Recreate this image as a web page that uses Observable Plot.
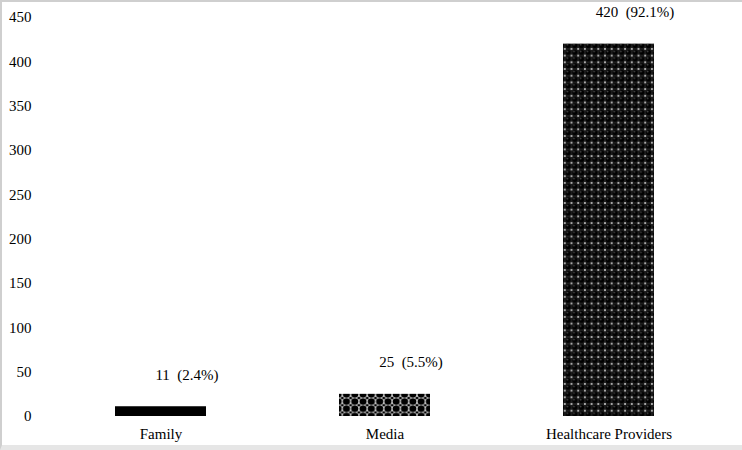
<!DOCTYPE html>
<html>
<head>
<meta charset="utf-8">
<script src="https://cdn.jsdelivr.net/npm/d3@7"></script>
<script src="https://cdn.jsdelivr.net/npm/@observablehq/plot@0.6"></script>
<style>
  html, body { margin: 0; padding: 0; background: #fff; }
  #frame {
    width: 742px; height: 450px; box-sizing: border-box;
    border-top: 2px solid #cfcfcf; border-left: 2px solid #cfcfcf;
    border-bottom: 5px solid #e6e6e6; overflow: hidden; background: #fff;
  }
  #frame svg { display: block; }
</style>
</head>
<body>
<div id="frame"></div>
<script>
const categories = ["Family", "Media", "Healthcare Providers"];
const counts = [11, 25, 420];
const percents = [2.4, 5.5, 92.1];
const yTicks = [0, 50, 100, 150, 200, 250, 300, 350, 400, 450];

const fills = {
  "Family": "#000",
  "Media": "url(#pat-media)",
  "Healthcare Providers": "url(#pat-health)"
};

const data = categories.map((c, i) => ({
  category: c,
  count: counts[i],
  label: `${counts[i]}\u00a0 (${percents[i]}%)`
}));

const chart = Plot.plot({
  width: 740,
  height: 443,
  marginLeft: 46,
  marginRight: 21,
  marginTop: 15,
  marginBottom: 29,
  style: { fontFamily: "'Liberation Serif', 'Times New Roman', serif", fontSize: "15px", color: "#000", background: "#fff" },
  x: { domain: categories, paddingInner: 0.595, paddingOuter: 0.2975, label: null },
  y: { domain: [0, 450], label: null },
  color: { type: "identity" },
  marks: [
    Plot.barY(data, { x: "category", y: "count", fill: d => fills[d.category] }),
    Plot.text(data, { x: "category", y: "count", text: "label", dx: 26, dy: -32, lineAnchor: "middle", fill: "#000", fontSize: 15 }),
    Plot.axisY({ ticks: yTicks, tickSize: 0, tickPadding: 17, fontSize: 15, label: null }),
    Plot.axisX({ tickSize: 0, tickPadding: 12, fontSize: 15, label: null })
  ]
});

const svg = d3.select(chart);
const defs = svg.insert("defs", ":first-child");

// Healthcare providers: dense dark dot pattern
const ph = defs.append("pattern").attr("id", "pat-health")
  .attr("patternUnits", "userSpaceOnUse").attr("width", 6.7).attr("height", 6.7);
ph.append("rect").attr("width", 6.7).attr("height", 6.7).attr("fill", "#1c1c1c");
ph.append("circle").attr("cx", 3.35).attr("cy", 3.35).attr("r", 2.5).attr("fill", "#000");
ph.append("circle").attr("cx", 2.5).attr("cy", 2.5).attr("r", 0.9).attr("fill", "#4a4a4a");
[[0,0],[6.7,0],[0,6.7],[6.7,6.7]].forEach(([x,y]) =>
  ph.append("circle").attr("cx", x).attr("cy", y).attr("r", 0.9).attr("fill", "#e8e8e8"));

// Media: black dots on white, chain-like
const pm = defs.append("pattern").attr("id", "pat-media")
  .attr("patternUnits", "userSpaceOnUse").attr("width", 8.3).attr("height", 7.2);
pm.append("rect").attr("width", 8.3).attr("height", 7.2).attr("fill", "#fff");
pm.append("ellipse").attr("cx", 4.15).attr("cy", 3.6).attr("rx", 3.7).attr("ry", 3.3).attr("fill", "#000");
[[0,0],[8.3,0],[0,7.2],[8.3,7.2]].forEach(([x,y]) =>
  pm.append("ellipse").attr("cx", x).attr("cy", y).attr("rx", 1.6).attr("ry", 1.4).attr("fill", "#000"));

document.getElementById("frame").appendChild(chart);
</script>
</body>
</html>
